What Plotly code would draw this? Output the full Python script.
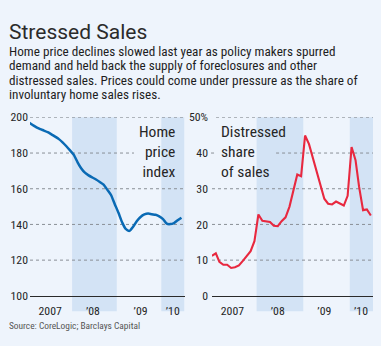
import plotly.graph_objects as go

# ---------------- data ----------------
months = [f"{y}-{m:02d}-15" for y in range(2007, 2011) for m in range(1, 13)][:42]  # Jan 2007 .. Jun 2010

home_price_index = [197.0, 195.6, 194.4, 193.4, 192.6, 191.7, 190.5, 189.2, 187.8, 186.0,
                    183.8, 181.5, 179.0, 174.8, 171.5, 169.0, 167.5, 166.3, 165.2, 163.8,
                    162.3, 159.5, 156.5, 151.5, 146.5, 141.0, 137.5, 136.4, 138.7, 141.9,
                    144.2, 145.6, 146.1, 145.7, 145.4, 144.5, 143.0, 140.4, 140.2, 140.8,
                    142.3, 143.8]

distressed_share = [11.2, 11.9, 9.5, 8.7, 8.7, 7.8, 8.0, 8.5, 9.8, 11.2,
                    12.5, 15.3, 22.8, 21.0, 20.8, 20.7, 19.6, 19.5, 20.9, 22.0,
                    25.0, 29.4, 34.0, 33.5, 44.9, 42.5, 39.0, 34.5, 30.8, 27.2,
                    25.8, 25.6, 26.4, 25.9, 25.3, 28.0, 41.7, 38.0, 30.5, 24.0,
                    24.2, 22.5]

x_tick_text = ["2007", "\u201908", "\u201909", "\u201910"]
left_tick_dates = ["2007-07-05", "2008-06-20", "2009-07-15", "2010-04-05"]
right_tick_dates = ["2007-06-25", "2008-06-15", "2009-06-15", "2010-03-30"]

left_y_ticks = [100, 120, 140, 160, 180, 200]
left_y_text = ["100", "120", "140", "160", "180", "200"]
right_y_ticks = [0, 10, 20, 30, 40, 50]
right_y_text = ["0", "10", "20", "30", "40", "50%"]

shaded_years = [("2008-01-01", "2009-01-01"), ("2010-01-01", "2011-01-01")]

title = "Stressed Sales"
subtitle_lines = [
    "Home price declines slowed last year as policy makers spurred",
    "demand and held back the supply of foreclosures and other",
    "distressed sales. Prices could come under pressure as the share of",
    "involuntary home sales rises.",
]
left_label = "Home<br>price<br>index"
right_label = "Distressed<br>share<br>of sales"
source = "Source: CoreLogic; Barclays Capital"

# ---------------- style ----------------
W, H = 381, 346
BG = "#EEF4FC"
BAND = "#D3E3F5"
BLUE = "#0A6AB4"
RED = "#E8283F"
GRID = "#8A8F96"
TXT = "#262626"
FONT = "Roboto Condensed, Roboto, sans-serif"

def px(x):
    return x / W

def py(y):
    return 1 - y / H

left_dom = [px(30), px(184.5)]
right_dom = [px(212), px(373)]
y_dom = [py(301), py(115)]
band_bottom = py(317)

left_range = ["2007-01-21", "2010-07-10"]
right_range = ["2007-01-16", "2010-07-02"]

fig = go.Figure()
fig.add_trace(go.Scatter(x=months, y=home_price_index, mode="lines",
                         line=dict(color=BLUE, width=2.5, shape="spline", smoothing=0.6),
                         xaxis="x", yaxis="y", hoverinfo="skip"))
fig.add_trace(go.Scatter(x=months, y=distressed_share, mode="lines",
                         line=dict(color=RED, width=2.1),
                         xaxis="x2", yaxis="y2", hoverinfo="skip"))

axis_font = dict(family=FONT, size=11.8, color=TXT)
fig.update_layout(
    width=W, height=H, margin=dict(l=0, r=0, t=0, b=0),
    paper_bgcolor=BG, plot_bgcolor="rgba(0,0,0,0)", showlegend=False,
    xaxis=dict(domain=left_dom, type="date", range=left_range, showgrid=False, zeroline=False,
               showline=True, linecolor="#2a2a2a", linewidth=1.3, ticks="",
               tickmode="array", tickvals=left_tick_dates, ticktext=x_tick_text,
               tickfont=axis_font, ticklabelstandoff=4, anchor="y"),
    yaxis=dict(domain=y_dom, range=[100, 200], showgrid=False, zeroline=False, showline=False,
               ticks="", tickmode="array", tickvals=left_y_ticks, ticktext=left_y_text,
               tickfont=axis_font, ticklabelstandoff=1, anchor="x"),
    xaxis2=dict(domain=right_dom, type="date", range=right_range, showgrid=False, zeroline=False,
                showline=True, linecolor="#2a2a2a", linewidth=1.3, ticks="",
                tickmode="array", tickvals=right_tick_dates, ticktext=x_tick_text,
                tickfont=axis_font, ticklabelstandoff=4, anchor="y2"),
    yaxis2=dict(domain=y_dom, range=[0, 50], showgrid=False, zeroline=False, showline=False,
                ticks="", tickmode="array", tickvals=right_y_ticks, ticktext=right_y_text,
                tickfont=axis_font, ticklabelstandoff=3, anchor="x2"),
)

# shaded year bands
for xr, rng in (("x", left_range), ("x2", right_range)):
    for a, b in shaded_years:
        b = min(b, rng[1])
        fig.add_shape(type="rect", xref=xr, yref="paper", x0=a, x1=b, y0=band_bottom, y1=y_dom[1],
                      fillcolor=BAND, line_width=0, layer="below")

# dotted gridlines
grid = dict(color=GRID, width=1, dash="dot")
for v in left_y_ticks[1:]:
    x1 = 0.673 if v == 180 else 1
    fig.add_shape(type="line", xref="x domain", yref="y", x0=0, x1=x1, y0=v, y1=v, line=grid, layer="below")
for v in right_y_ticks[1:]:
    if v == 40:
        fig.add_shape(type="line", xref="x2 domain", yref="y2", x0=-0.006, x1=0.025, y0=v, y1=v, line=grid, layer="below")
        fig.add_shape(type="line", xref="x2 domain", yref="y2", x0=0.398, x1=1, y0=v, y1=v, line=grid, layer="below")
    else:
        x0 = 0.025 if v == 50 else 0
        fig.add_shape(type="line", xref="x2 domain", yref="y2", x0=x0, x1=1, y0=v, y1=v, line=grid, layer="below")

# texts
def note(text, x, y, size, xanchor="left", color=TXT, family=FONT, align="left"):
    fig.add_annotation(text=text, x=px(x), y=py(y), xref="paper", yref="paper",
                       xanchor=xanchor, yanchor="middle", showarrow=False, align=align,
                       font=dict(family=family, size=size, color=color))

note(title, 7, 26, 21, color="#2b2b2b", family="Roboto, sans-serif")
for i, line in enumerate(subtitle_lines):
    note(line, 7, 46.7 + i * 14.7, 13.2, color="#1e1e1e")
note(left_label, 178, 151.5, 15.5, xanchor="right", align="right")
note(right_label, 219, 151.5, 15.5)
note(source, 7, 331.5, 9.4, color="#555555")

fig.write_html("out.html")
